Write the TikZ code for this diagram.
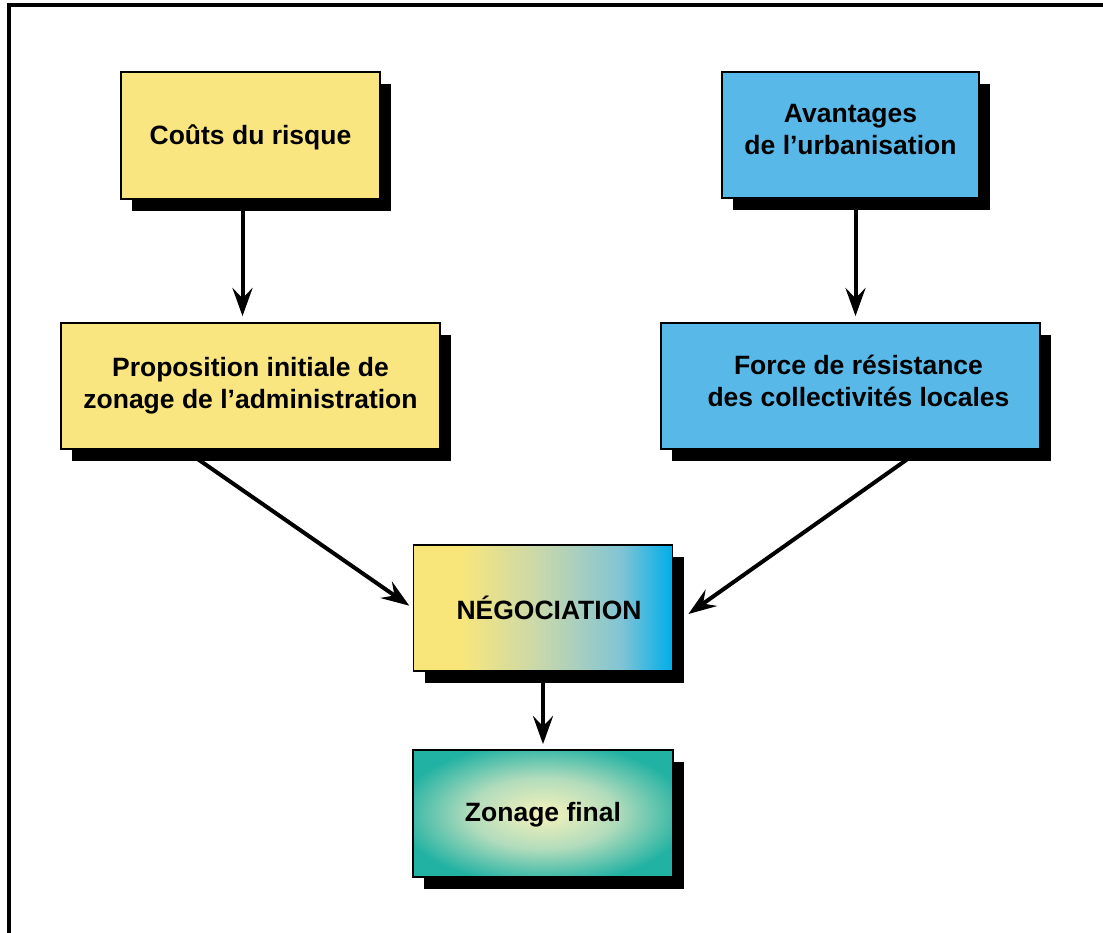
\documentclass[tikz,border=0pt]{standalone}
\usepackage{fontspec}
\setmainfont{Liberation Sans}
\usetikzlibrary{shadows,arrows.meta,backgrounds}
\definecolor{boxyellow}{HTML}{FAE681}
\definecolor{boxblue}{HTML}{58B9E9}
\definecolor{negY}{HTML}{F9E67B}
\definecolor{negM}{HTML}{C6D7AE}
\definecolor{negL}{HTML}{82C4D4}
\definecolor{negB}{HTML}{00AEEA}
\definecolor{zC}{HTML}{F6F2BA}
\definecolor{zM}{HTML}{B2DCBC}
\definecolor{zT}{HTML}{22B2A3}
\pgfdeclarehorizontalshading{nego}{100bp}{color(0bp)=(negY); color(25bp)=(negY); color(34bp)=(negY); color(50bp)=(negM); color(65bp)=(negL); color(75bp)=(negB); color(100bp)=(negB)}
\pgfdeclareradialshading{zon}{\pgfpoint{0bp}{0bp}}{color(0bp)=(zC); color(14bp)=(zM); color(28bp)=(zT); color(50bp)=(zT)}
\newcommand{\shiftedtext}[2]{\raisebox{#1}[\height][\depth]{\begin{tabular}{@{}c@{}}#2\end{tabular}}}
\begin{document}
\begin{tikzpicture}[x=1pt,y=-1pt,
  box/.style={draw=black, line width=1.8pt, inner sep=0pt, align=center,
    font=\fontsize{26.5}{32}\selectfont\bfseries,
    drop shadow={shadow xshift=11pt, shadow yshift=-12pt, fill=black, opacity=1}},
  conn/.style={line width=4pt, -{Stealth[length=28pt,width=20pt,inset=10pt]}}]
\useasboundingbox (0,0) rectangle (1103,932);
\clip (0,0) rectangle (1103,932);
\draw[line width=3.5pt] (9,940) -- (9,5) -- (1110,5);

\node[box, fill=boxyellow, minimum width=259pt, minimum height=127pt] (cout) at (250.5,135.5) {\shiftedtext{-3pt}{Coûts du risque}};
\node[box, fill=boxblue, minimum width=257pt, minimum height=126pt] (avant) at (850.5,135) {\shiftedtext{3pt}{Avantages\\de l’urbanisation}};
\node[box, fill=boxyellow, minimum width=379pt, minimum height=126pt] (prop) at (250.5,386) {Proposition initiale de\\zonage de l’administration};
\node[box, fill=boxblue, minimum width=379pt, minimum height=126pt] (force) at (850.5,386) {\shiftedtext{2pt}{\hspace*{16pt}Force de résistance\\\hspace*{16pt}des collectivités locales}};
\node[box, shading=nego, minimum width=259pt, minimum height=126pt] (nego) at (543,608) {\hspace*{12pt}NÉGOCIATION};
\node[box, shading=zon, minimum width=260pt, minimum height=127pt] (zon) at (543,813.5) {\shiftedtext{-2pt}{Zonage final}};

\begin{scope}[on background layer]
\fill[white] (0,0) rectangle (1103,932);
\draw[conn, shorten >=6pt] ([xshift=-8pt]cout.south) -- ([xshift=-8pt]prop.north);
\draw[conn, shorten >=6pt] ([xshift=5pt]avant.south) -- ([xshift=5pt]avant.south |- force.north);
\draw[conn, shorten >=4pt] ([xshift=-66pt]prop.south) -- (nego.west);
\draw[conn] ([xshift=70pt]force.south) -- ([xshift=15pt,yshift=-6pt]nego.east);
\draw[conn, shorten >=5pt] (nego.south) -- (zon.north);
\end{scope}
\end{tikzpicture}
\end{document}
